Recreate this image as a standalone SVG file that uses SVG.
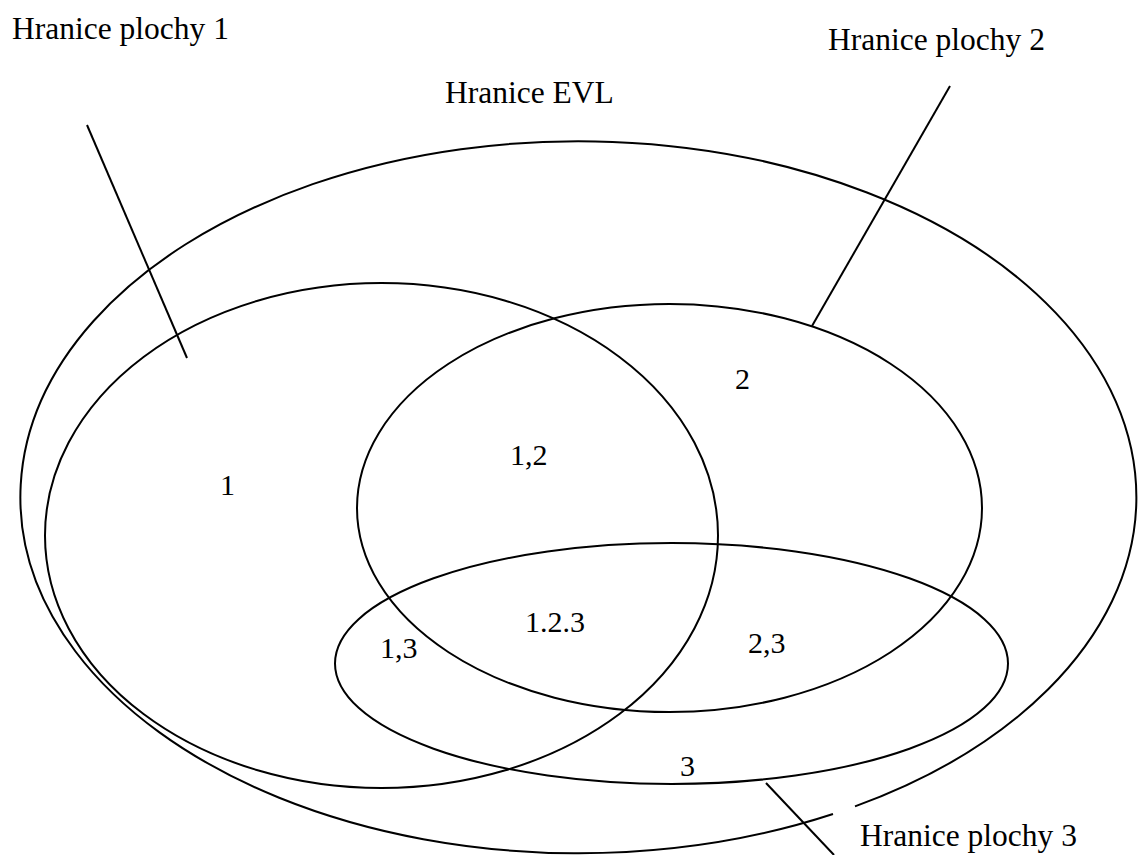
<svg xmlns="http://www.w3.org/2000/svg" width="1139" height="855" viewBox="0 0 1139 855">
<style>
.ln{fill:none;stroke:#000;stroke-width:2}
.t{font-family:"Liberation Serif","Times New Roman",serif;font-size:31.5px;fill:#000}
.n{font-family:"Liberation Serif","Times New Roman",serif;font-size:30px;fill:#000}
</style>
<rect width="1139" height="855" fill="#fff"/>
<g id="evl">
<path class="ln" d="M 855 806.4 A 558 356 0 1 0 833 814"/>
<text class="t" x="445" y="103">Hranice EVL</text>
</g>
<g id="plocha1">
<ellipse class="ln" cx="381.5" cy="535.5" rx="336.5" ry="252.5"/>
<text class="t" x="12" y="39">Hranice plochy 1</text>
</g>
<g id="plocha2">
<ellipse class="ln" cx="669.5" cy="508" rx="312.5" ry="204"/>
<text class="t" x="828" y="50">Hranice plochy 2</text>
</g>
<g id="plocha3">
<ellipse class="ln" cx="671.5" cy="663.5" rx="336.5" ry="120.5"/>
<text class="t" x="860" y="846">Hranice plochy 3</text>
</g>
<g id="connectors">
<line class="ln" x1="87" y1="125" x2="187" y2="358"/>
<line class="ln" x1="950" y1="86" x2="812" y2="326"/>
<line class="ln" x1="766" y1="783" x2="834" y2="855"/>
</g>
<g id="labels">
<text class="n" x="220" y="495">1</text>
<text class="n" x="735" y="389">2</text>
<text class="n" x="510" y="465">1,2</text>
<text class="n" x="525" y="632">1.2.3</text>
<text class="n" x="380" y="658">1,3</text>
<text class="n" x="748" y="653">2,3</text>
<text class="n" x="680" y="776">3</text>
</g>
</svg>
